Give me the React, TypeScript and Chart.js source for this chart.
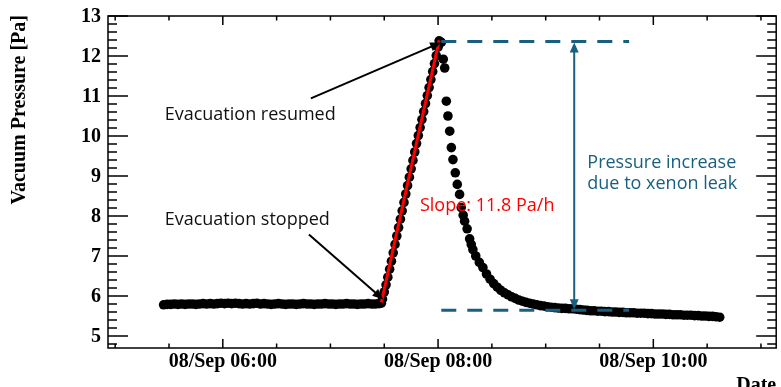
import React, { useEffect, useRef } from "react";
import { Chart, registerables } from "chart.js";

Chart.register(...registerables);

// ---- data (time in minutes since 08/Sep 00:00, pressure in Pa) ----
const FLAT_T = [327, 329, 331, 333, 335, 337, 339, 341, 343, 345, 347, 349, 351, 353, 355, 357, 359, 361, 363, 365, 367, 369, 371, 373, 375, 377, 379, 381, 383, 385, 387, 389, 391, 393, 395, 397, 399, 401, 403, 405, 407, 409, 411, 413, 415, 417, 419, 421, 423, 425, 427, 429, 431, 433, 435, 437, 439, 441, 443, 445, 447];
const FLAT_P = [5.78, 5.79, 5.79, 5.80, 5.79, 5.80, 5.79, 5.80, 5.80, 5.79, 5.80, 5.81, 5.80, 5.81, 5.80, 5.81, 5.82, 5.81, 5.82, 5.81, 5.82, 5.81, 5.80, 5.81, 5.80, 5.81, 5.82, 5.80, 5.81, 5.80, 5.79, 5.80, 5.81, 5.80, 5.79, 5.80, 5.80, 5.79, 5.80, 5.81, 5.80, 5.80, 5.79, 5.80, 5.80, 5.81, 5.80, 5.80, 5.79, 5.80, 5.80, 5.81, 5.80, 5.80, 5.79, 5.80, 5.80, 5.81, 5.80, 5.80, 5.81];
const RISE_T = [448.4, 449, 450, 451, 452, 453, 454, 455, 456, 457, 458, 459, 460, 461, 462, 463, 464, 465, 466, 467, 468, 469, 470, 471, 472, 473, 474, 475, 476, 477, 478, 479, 480, 480.6];
const RISE_P = [5.82, 5.92, 6.10, 6.28, 6.47, 6.67, 6.87, 7.08, 7.29, 7.50, 7.71, 7.92, 8.13, 8.34, 8.55, 8.76, 8.97, 9.18, 9.39, 9.60, 9.81, 10.01, 10.21, 10.41, 10.61, 10.81, 11.01, 11.21, 11.41, 11.61, 11.81, 12.01, 12.22, 12.38];
const DECAY_T = [481.8, 482.9, 483.7, 484.6, 485.5, 486.5, 487.4, 488.3, 489.6, 490.7, 492.0, 492.9, 494.0, 494.8, 496.2, 497.6, 498.5, 499.4, 501, 503, 505, 507, 509, 511, 513, 515, 517, 519, 521, 523, 525, 527, 529, 531, 533, 535, 537, 539, 541, 543, 545, 547, 549, 551, 553, 555, 557, 559, 561, 563, 565, 567, 569, 571, 573, 575, 577, 579, 581, 583, 585, 587, 589, 591, 593, 595, 597, 599, 601, 603, 605, 607, 609, 611, 613, 615, 617, 619, 621, 623, 625, 627, 629, 631, 633, 635, 637];
const DECAY_P = [12.34, 11.92, 11.70, 10.87, 10.50, 10.12, 9.71, 9.41, 9.08, 8.79, 8.54, 8.21, 8.02, 7.87, 7.68, 7.43, 7.29, 7.16, 7.00, 6.84, 6.71, 6.55, 6.42, 6.31, 6.22, 6.14, 6.08, 6.03, 5.98, 5.94, 5.90, 5.87, 5.84, 5.82, 5.80, 5.78, 5.76, 5.75, 5.73, 5.72, 5.71, 5.70, 5.69, 5.69, 5.68, 5.68, 5.67, 5.66, 5.65, 5.64, 5.63, 5.63, 5.62, 5.62, 5.61, 5.61, 5.60, 5.60, 5.59, 5.59, 5.58, 5.58, 5.58, 5.57, 5.57, 5.57, 5.56, 5.56, 5.55, 5.55, 5.55, 5.54, 5.54, 5.53, 5.53, 5.53, 5.52, 5.52, 5.52, 5.51, 5.51, 5.50, 5.50, 5.49, 5.49, 5.48, 5.47];

// linear fit drawn in red
const FIT_T = [448.4, 480.6];
const FIT_P = [5.84, 12.39];

// leak annotation levels
const LEAK_LEVELS = [12.36, 5.645];
const LEAK_T_RANGE = [481.8, 586.5];
const LEAK_ARROW_T = 555.9;

// axes
const X_RANGE = [296.0, 668.5];
const Y_RANGE = [4.7, 13.0];
const X_MAJOR = [360, 480, 600];
const X_LABELS = ["08/Sep 06:00", "08/Sep 08:00", "08/Sep 10:00"];
const Y_MAJOR = [5, 6, 7, 8, 9, 10, 11, 12, 13];
const Y_LABELS = ["5", "6", "7", "8", "9", "10", "11", "12", "13"];

const BLUE = "#196080";
const SERIF = '"Liberation Serif", "Times New Roman", serif';
const SANS = '"Open Sans", "Noto Sans", sans-serif';

function zip(t: number[], p: number[]) {
  return t.map((v, i) => ({ x: v, y: p[i] }));
}

function arrowHead(ctx: CanvasRenderingContext2D, fx: number, fy: number, tx: number, ty: number, len: number, w: number) {
  const ang = Math.atan2(ty - fy, tx - fx);
  ctx.beginPath();
  ctx.moveTo(tx, ty);
  ctx.lineTo(tx - len * Math.cos(ang) + (w / 2) * Math.sin(ang), ty - len * Math.sin(ang) - (w / 2) * Math.cos(ang));
  ctx.lineTo(tx - len * Math.cos(ang) - (w / 2) * Math.sin(ang), ty - len * Math.sin(ang) + (w / 2) * Math.cos(ang));
  ctx.closePath();
  ctx.fill();
}

function arrowLine(ctx: CanvasRenderingContext2D, fx: number, fy: number, tx: number, ty: number, len: number, w: number) {
  const ang = Math.atan2(ty - fy, tx - fx);
  ctx.beginPath();
  ctx.moveTo(fx, fy);
  ctx.lineTo(tx - (len - 1) * Math.cos(ang), ty - (len - 1) * Math.sin(ang));
  ctx.stroke();
  arrowHead(ctx, fx, fy, tx, ty, len, w);
}

const rootPlugin = {
  id: "rootAxes",
  afterDraw(chart: any) {
    const { ctx, chartArea: a, scales } = chart;
    const xs = scales.x;
    const ys = scales.y;
    const X = (v: number) => xs.getPixelForValue(v);
    const Y = (v: number) => ys.getPixelForValue(v);
    ctx.save();

    // --- annotations ---
    ctx.strokeStyle = "#000";
    ctx.fillStyle = "#000";
    ctx.lineWidth = 2;
    arrowLine(ctx, X(409.1), Y(10.94), X(481.7), Y(12.34), 11, 9);
    arrowLine(ctx, X(408.0), Y(7.54), X(449.5), Y(5.91), 11, 9);

    ctx.strokeStyle = BLUE;
    ctx.fillStyle = BLUE;
    ctx.lineWidth = 2;
    const ax = X(LEAK_ARROW_T);
    const yTop = Y(LEAK_LEVELS[0]) + 1;
    const yBot = Y(LEAK_LEVELS[1]) - 1;
    ctx.beginPath();
    ctx.moveTo(ax, yTop + 9);
    ctx.lineTo(ax, yBot - 9);
    ctx.stroke();
    arrowHead(ctx, ax, yBot, ax, yTop, 10, 9);
    arrowHead(ctx, ax, yTop, ax, yBot, 10, 9);

    ctx.textBaseline = "middle";
    ctx.textAlign = "left";
    ctx.font = `18px ${SANS}`;
    ctx.fillStyle = "#111";
    ctx.fillText("Evacuation resumed", X(327.6), Y(10.54));
    ctx.fillText("Evacuation stopped", X(327.6), Y(7.91));
    ctx.fillStyle = "#ff0000";
    ctx.fillText("Slope: 11.8 Pa/h", X(469.9), Y(8.245));
    ctx.fillStyle = BLUE;
    ctx.fillText("Pressure increase", X(563.2), Y(9.34));
    ctx.fillText("due to xenon leak", X(563.2), Y(8.81));

    // --- frame ---
    ctx.strokeStyle = "#000";
    ctx.lineWidth = 1.5;
    ctx.strokeRect(a.left, a.top, a.right - a.left, a.bottom - a.top);

    ctx.beginPath();
    for (let m = Math.ceil(X_RANGE[0] / 30) * 30; m <= X_RANGE[1]; m += 30) {
      const px = X(m);
      const major = X_MAJOR.includes(m);
      const len = major ? 9 : 4.5;
      ctx.moveTo(px, a.bottom);
      ctx.lineTo(px, a.bottom - len);
      ctx.moveTo(px, a.top);
      ctx.lineTo(px, a.top + len);
    }
    for (let k = Math.ceil(Y_RANGE[0] * 5); k <= Math.floor(Y_RANGE[1] * 5 + 1e-6); k++) {
      const v = k / 5;
      const py = Y(v);
      const major = k % 5 === 0;
      const len = major ? 20 : 9;
      ctx.moveTo(a.left, py);
      ctx.lineTo(a.left + len, py);
      ctx.moveTo(a.right, py);
      ctx.lineTo(a.right - len, py);
    }
    ctx.stroke();

    ctx.fillStyle = "#000";
    ctx.font = `bold 20px ${SERIF}`;
    ctx.textAlign = "center";
    ctx.textBaseline = "alphabetic";
    X_MAJOR.forEach((m, i) => ctx.fillText(X_LABELS[i], X(m), a.bottom + 19));
    ctx.textAlign = "right";
    ctx.textBaseline = "middle";
    Y_MAJOR.forEach((v, i) => ctx.fillText(Y_LABELS[i], a.left - 7, Y(v) + 1));

    ctx.textAlign = "right";
    ctx.textBaseline = "alphabetic";
    ctx.fillText("Date", a.right, a.bottom + 43);
    ctx.save();
    ctx.translate(25, a.top - 1);
    ctx.rotate(-Math.PI / 2);
    ctx.textAlign = "right";
    ctx.fillText("Vacuum Pressure [Pa]", 0, 0);
    ctx.restore();

    ctx.restore();
  },
};

export default function App() {
  const ref = useRef<HTMLCanvasElement | null>(null);
  useEffect(() => {
    if (!ref.current) return;
    const points = [...zip(FLAT_T, FLAT_P), ...zip(RISE_T, RISE_P), ...zip(DECAY_T, DECAY_P)];
    const chart = new Chart(ref.current, {
      type: "scatter",
      data: {
        datasets: [
          {
            type: "line",
            data: zip(FIT_T, FIT_P),
            borderColor: "#ff0000",
            borderWidth: 3,
            pointRadius: 0,
            order: 0,
          } as any,
          {
            type: "line",
            data: LEAK_T_RANGE.map((t) => ({ x: t, y: LEAK_LEVELS[0] })),
            borderColor: BLUE,
            borderWidth: 3,
            borderDash: [15, 11],
            pointRadius: 0,
            order: 1,
          } as any,
          {
            type: "line",
            data: LEAK_T_RANGE.map((t) => ({ x: t, y: LEAK_LEVELS[1] })),
            borderColor: BLUE,
            borderWidth: 3,
            borderDash: [15, 11],
            pointRadius: 0,
            order: 1,
          } as any,
          {
            type: "scatter",
            data: points,
            backgroundColor: "#000",
            borderWidth: 0,
            pointRadius: 4.8,
            order: 2,
          } as any,
        ],
      },
      options: {
        responsive: false,
        animation: false,
        devicePixelRatio: 1,
        events: [],
        layout: { padding: { left: 108, right: 1, top: 16, bottom: 39 } },
        plugins: { legend: { display: false }, tooltip: { enabled: false } },
        scales: {
          x: { type: "linear", display: false, min: X_RANGE[0], max: X_RANGE[1] },
          y: { type: "linear", display: false, min: Y_RANGE[0], max: Y_RANGE[1] },
        },
      },
      plugins: [rootPlugin],
    });
    return () => chart.destroy();
  }, []);
  return (
    <div style={{ position: "fixed", left: 0, top: 0, width: 781, height: 387, background: "#fff" }}>
      <canvas ref={ref} width={781} height={387} />
    </div>
  );
}
